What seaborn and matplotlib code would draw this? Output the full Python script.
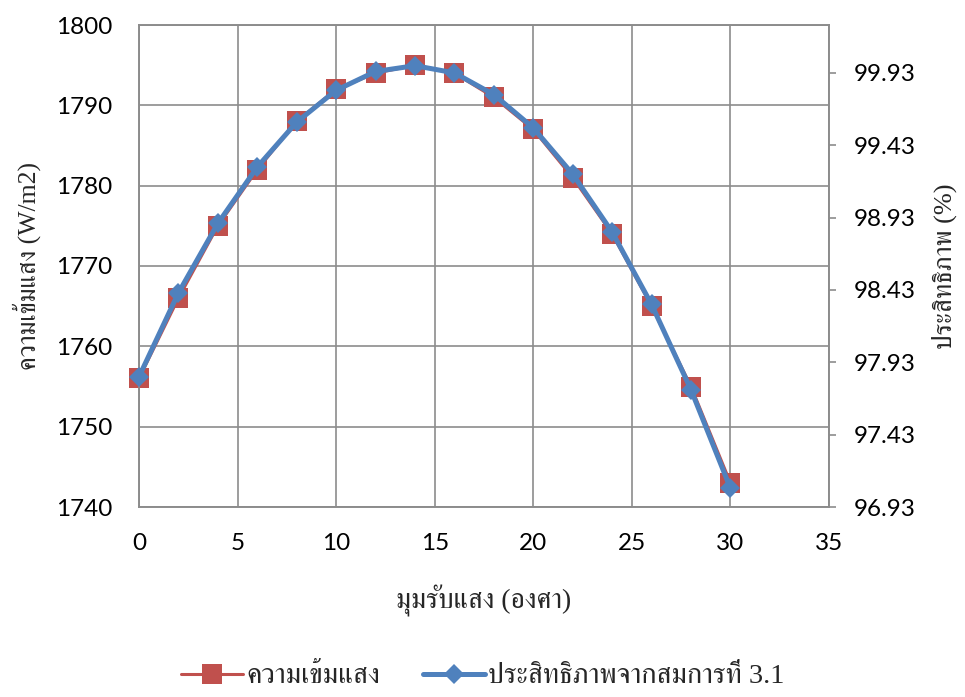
import matplotlib
matplotlib.use("Agg")
import matplotlib.pyplot as plt
from matplotlib import font_manager
from matplotlib.ticker import FixedLocator
import seaborn as sns
import pandas as pd

# Light-receiving angle (degrees)
angles = [0, 2, 4, 6, 8, 10, 12, 14, 16, 18, 20, 22, 24, 26, 28, 30]
# Light intensity (W/m2), left axis
intensity = [1756, 1766, 1775, 1782, 1788, 1792, 1794, 1795, 1794, 1791,
             1787, 1781, 1774, 1765, 1755, 1743]
# Efficiency from equation 3.1 (%), right axis
efficiency = [97.83, 98.41, 98.89, 99.28, 99.59, 99.81, 99.94, 99.98, 99.93,
              99.78, 99.55, 99.23, 98.83, 98.33, 97.74, 97.06]

left_ticks = [1740, 1750, 1760, 1770, 1780, 1790, 1800]
right_ticks = [96.93, 97.43, 97.93, 98.43, 98.93, 99.43, 99.93]
x_ticks = [0, 5, 10, 15, 20, 25, 30, 35]

label_x = "มุมรับแสง (องศา)"
label_left = "ความเข้มแสง (W/m2)"
label_right = "ประสิทธิภาพ (%)"
name_intensity = "ความเข้มแสง"
name_eff = "ประสิทธิภาพจากสมการที่ 3.1"


def thai_families():
    """Installed families whose character map covers Thai."""
    found = []
    try:
        from fontTools.ttLib import TTFont
    except Exception:
        return found
    for f in font_manager.fontManager.ttflist:
        try:
            tt = TTFont(f.fname, fontNumber=0, lazy=True)
            cmap = tt.getBestCmap() or {}
            if 0x0E01 in cmap and 0x0E2A in cmap and f.name not in found:
                found.append(f.name)
        except Exception:
            pass
    found.sort(key=lambda n: (0 if "Serif" in n else 1, n))
    return found


sns.set_style("white")
thai = thai_families()
num_font = ["Lato", "DejaVu Sans"]
thai_font = ["Liberation Serif"] + thai + ["DejaVu Serif"]
plt.rcParams["font.family"] = num_font

df = pd.DataFrame({"angle": angles, "intensity": intensity,
                   "efficiency": efficiency})

red = "#C0504D"
blue = "#4F81BD"
grid_c = "#8C8C8C"

fig = plt.figure(figsize=(9.65, 6.97), dpi=100)
ax = fig.add_axes([139 / 965, 1 - 507 / 697, 690 / 965, 482 / 697])
ax2 = ax.twinx()

sns.lineplot(data=df, x="angle", y="intensity", ax=ax, color=red,
             linewidth=2.2, marker="s", markersize=14, markeredgewidth=0,
             label=name_intensity, legend=False, clip_on=False, zorder=3)
sns.lineplot(data=df, x="angle", y="efficiency", ax=ax2, color=blue,
             linewidth=3.6, marker="D", markersize=10, markeredgewidth=0,
             label=name_eff, legend=False, clip_on=False, zorder=4)

ax.set_xlim(0, 35)
ax.set_ylim(1740, 1800)
ax2.set_ylim(96.93, 96.93 + 482 / 144.7)
ax.xaxis.set_major_locator(FixedLocator(x_ticks))
ax.yaxis.set_major_locator(FixedLocator(left_ticks))
ax2.yaxis.set_major_locator(FixedLocator(right_ticks))
ax2.set_yticklabels([f"{v:.2f}" for v in right_ticks])

ax.grid(True, color=grid_c, linewidth=1.2)
ax.set_axisbelow(True)
for a in (ax, ax2):
    for s in a.spines.values():
        s.set_color(grid_c)
        s.set_linewidth(1.2)
ax.tick_params(axis="y", length=0, labelsize=17.5, pad=19, colors="black")
ax.tick_params(axis="x", length=0, labelsize=17.5, pad=19, colors="black")
ax2.tick_params(axis="y", length=5, width=1.2, color=grid_c, labelsize=17.5,
                pad=13, labelcolor="black")

ax.set_xlabel(label_x, family=thai_font, fontsize=20, labelpad=22)
ax.set_ylabel(label_left, family=thai_font, fontsize=18.5)
ax2.set_ylabel(label_right, family=thai_font, fontsize=19, rotation=90)
ax.yaxis.set_label_coords(-0.142, 0.5)
ax2.yaxis.set_label_coords(1.148, 0.5)

h1, l1 = ax.get_legend_handles_labels()
h2, l2 = ax2.get_legend_handles_labels()
fig.legend(h1 + h2, l1 + l2, loc="lower center", ncol=2, frameon=False,
           bbox_to_anchor=(0.5, -0.026), prop={"family": thai_font, "size": 20.5},
           handlelength=2.2, handletextpad=0.1, columnspacing=1.5)

fig.savefig("out.png", dpi=100)
